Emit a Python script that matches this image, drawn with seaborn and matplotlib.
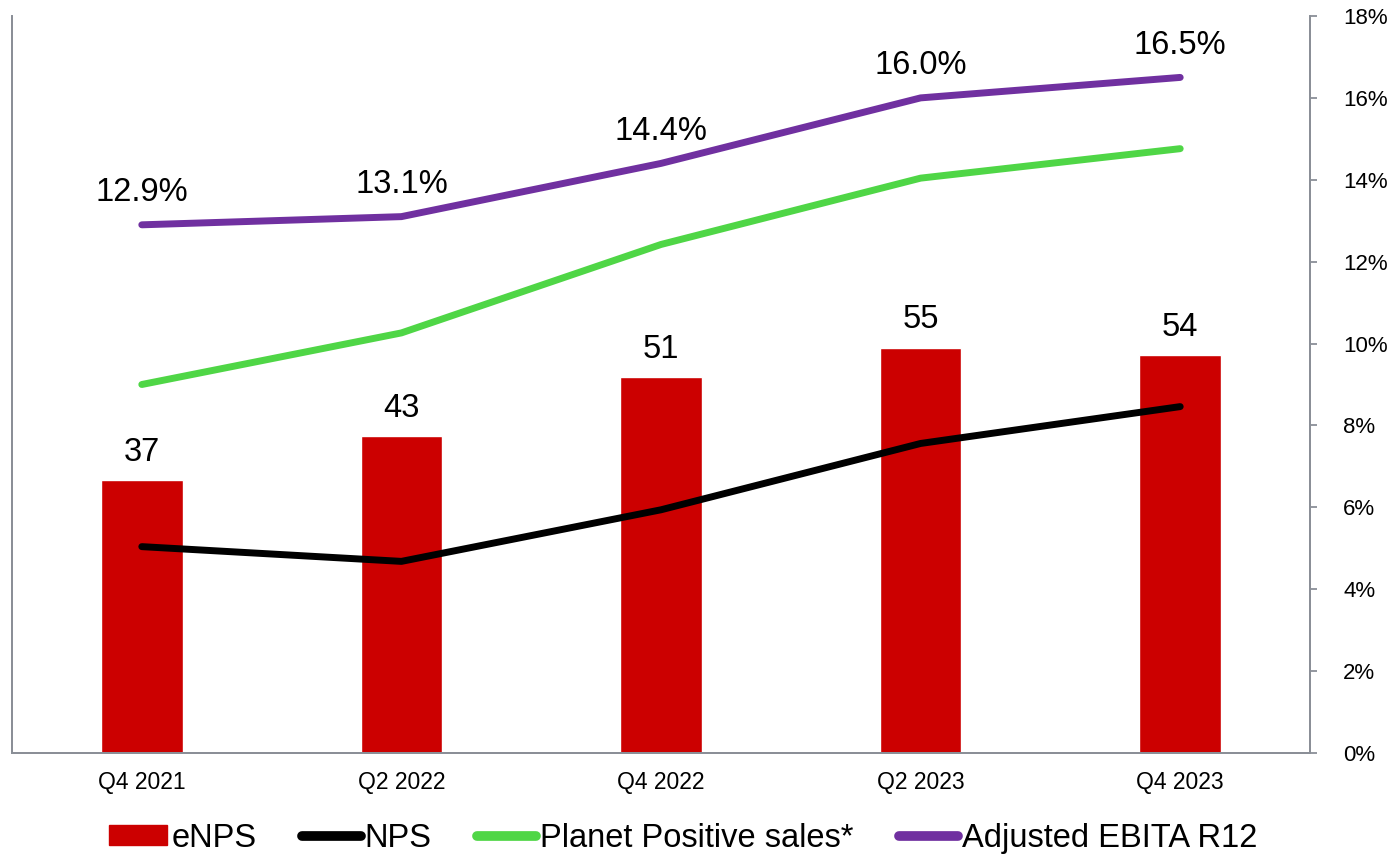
import numpy as np
import pandas as pd
import seaborn as sns
import matplotlib.pyplot as plt
from matplotlib.patches import Patch
from matplotlib.lines import Line2D

# Chart values
quarters = ['Q4 2021', 'Q2 2022', 'Q4 2022', 'Q2 2023', 'Q4 2023']
enps = [37, 43, 51, 55, 54]
nps = [28, 26, 33, 42, 47]
planet_positive = [50, 57, 69, 78, 82]  # share of sales, left scale
ebita = [12.9, 13.1, 14.4, 16.0, 16.5]  # %, right scale

red = '#cc0000'
green = '#4fd646'
purple = '#7030a0'
spine_grey = '#8a8f97'

sns.set_style('white')
plt.rcParams['font.family'] = ['Liberation Sans', 'DejaVu Sans']
plt.rcParams['text.color'] = 'black'

df = pd.DataFrame({'quarter': quarters, 'eNPS': enps, 'NPS': nps,
                   'planet': planet_positive, 'ebita': ebita})

fig = plt.figure(figsize=(13.96, 8.58), dpi=100)
ax = fig.add_axes([12 / 1396, 1 - 753 / 858, 1298 / 1396, 737 / 858])

sns.barplot(data=df, x='quarter', y='eNPS', color=red, width=0.315,
            saturation=1, ax=ax, zorder=1)
sns.lineplot(data=df, x='quarter', y='planet', color=green, lw=5,
             solid_capstyle='round', ax=ax, zorder=3)
sns.lineplot(data=df, x='quarter', y='NPS', color='black', lw=5,
             solid_capstyle='round', ax=ax, zorder=3)

ax2 = ax.twinx()
sns.lineplot(data=df, x='quarter', y='ebita', color=purple, lw=5,
             solid_capstyle='round', ax=ax2, zorder=3)

ax.set_xlim(-0.5, 4.5)
ax.set_ylim(0, 100)
ax2.set_ylim(0, 18)
ax2.set_yticks(np.arange(0, 19, 2))
ax2.set_yticklabels([f'{v}%' for v in range(0, 19, 2)])

# data labels
for i, v in enumerate(enps):
    ax.annotate(str(v), (i, v), xytext=(0, 9), textcoords='offset points',
                ha='center', va='bottom', fontsize=23.5, color='black')
for i, v in enumerate(ebita):
    ax2.annotate(f'{v:.1f}%', (i, v), xytext=(0, 12), textcoords='offset points',
                 ha='center', va='bottom', fontsize=23.5, color='black')

for a in (ax, ax2):
    a.set_xlabel('')
    a.set_ylabel('')
    for s in a.spines.values():
        s.set_color(spine_grey)
        s.set_linewidth(1.3)
    a.spines['top'].set_visible(False)

ax.tick_params(axis='y', left=False, labelleft=False)
ax.tick_params(axis='x', length=0, pad=13, labelsize=16.5, labelcolor='black')
ax.set_xticks([-0.5, 4.5], minor=True)
ax.tick_params(axis='x', which='minor', length=5, color=spine_grey, width=1.3)
ax2.tick_params(axis='y', right=True, length=5, color=spine_grey, width=1.3,
                pad=19, labelsize=16, labelcolor='black')

handles = [
    Patch(color=red, label='eNPS'),
    Line2D([], [], color='black', lw=7, solid_capstyle='round', label='NPS'),
    Line2D([], [], color=green, lw=7, solid_capstyle='round', label='Planet Positive sales*'),
    Line2D([], [], color=purple, lw=7, solid_capstyle='round', label='Adjusted EBITA R12'),
]
fig.legend(handles=handles, loc='center', bbox_to_anchor=(683 / 1396, 0.023), ncol=4,
           frameon=False, fontsize=23.5, handlelength=1.8, handletextpad=0.12,
           columnspacing=1.4, handleheight=0.55, labelcolor='black')

fig.savefig('out.png', dpi=100)
